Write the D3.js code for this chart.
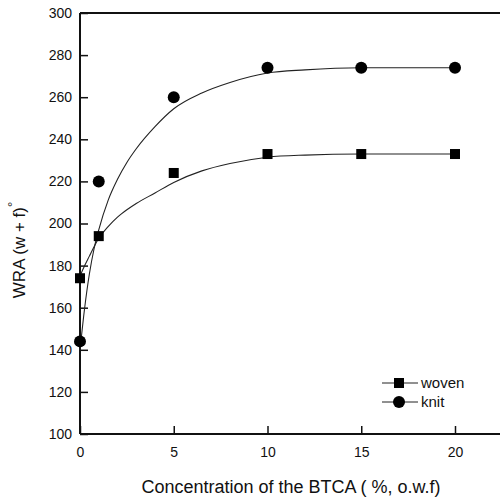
<!DOCTYPE html>
<html>
<head>
<meta charset="utf-8">
<script src="https://cdn.jsdelivr.net/npm/d3@7"></script>
<style>
  html, body { margin: 0; padding: 0; background: #fff; }
  svg { display: block; }
  text { font-family: "Liberation Sans", Arial, sans-serif; fill: #111; }
</style>
</head>
<body>
<svg id="chart" width="500" height="497"></svg>
<script>
// ---- data ----
const concentration = [0, 1, 5, 10, 15, 20];
const wovenValues = [174, 194, 224, 233, 233, 233];
const knitValues = [144, 220, 260, 274, 274, 274];

// fitted curves
const fitX = [0, 0.25, 0.5, 0.75, 1, 1.5, 2, 2.5, 3, 4, 5, 6.5, 8, 10, 12, 15, 20];
const wovenFit = [175, 180, 184.5, 189, 193, 198.5, 203, 206.5, 209.5, 214.5, 219.5, 225, 228.5, 231.5, 232.5, 233, 233];
const knitFit = [140, 160, 176, 188, 197, 211, 221, 229, 235.5, 246, 254.5, 262, 267, 271.5, 273, 274, 274];

const xTicks = [0, 5, 10, 15, 20];
const yTicks = [100, 120, 140, 160, 180, 200, 220, 240, 260, 280, 300];

const seriesNames = ["woven", "knit"];
const xLabel = "Concentration of the BTCA ( %, o.w.f)";

// ---- layout ----
const svg = d3.select("#chart");
const mLeft = 80, mTop = 13, mBottom = 434;
const x = d3.scaleLinear().domain([0, 20]).range([mLeft, 455]);
const y = d3.scaleLinear().domain([100, 300]).range([mBottom, mTop]);

// frame top (right edge off-screen)
svg.append("line").attr("x1", mLeft).attr("x2", 502).attr("y1", mTop).attr("y2", mTop)
  .attr("stroke", "#111").attr("stroke-width", 2);

// axes
const xAxis = d3.axisBottom(x).tickValues(xTicks).tickSize(-8).tickPadding(13).tickFormat(d3.format("d"));
const gx = svg.append("g").attr("transform", `translate(0,${mBottom})`).call(xAxis);
gx.select(".domain").attr("d", `M${mLeft},0H502`).attr("stroke", "#111").attr("stroke-width", 2);
gx.selectAll(".tick line").attr("stroke", "#111").attr("stroke-width", 1.5);
gx.selectAll(".tick text").attr("font-size", 14).attr("font-family", "Liberation Sans, Arial, sans-serif").attr("fill", "#111");

const yAxis = d3.axisLeft(y).tickValues(yTicks).tickSize(-8).tickPadding(8).tickFormat(d3.format("d"));
const gy = svg.append("g").attr("transform", `translate(${mLeft},0)`).call(yAxis);
gy.select(".domain").attr("d", `M0,${mTop}V${mBottom}`).attr("stroke", "#111").attr("stroke-width", 2);
gy.selectAll(".tick line").attr("stroke", "#111").attr("stroke-width", 1.5);
gy.selectAll(".tick text").attr("font-size", 14).attr("font-family", "Liberation Sans, Arial, sans-serif").attr("fill", "#111");

// fitted curves
const line = d3.line().x((d, i) => x(fitX[i])).y(d => y(d)).curve(d3.curveMonotoneX);
svg.append("path").datum(wovenFit).attr("d", line).attr("fill", "none").attr("stroke", "#222").attr("stroke-width", 1.1);
svg.append("path").datum(knitFit).attr("d", line).attr("fill", "none").attr("stroke", "#222").attr("stroke-width", 1.1);

// markers
const sq = 10;
svg.append("g").selectAll("rect").data(wovenValues).join("rect")
  .attr("x", (d, i) => x(concentration[i]) - sq / 2)
  .attr("y", d => y(d) - sq / 2)
  .attr("width", sq).attr("height", sq).attr("fill", "#000");
svg.append("g").selectAll("circle").data(knitValues).join("circle")
  .attr("cx", (d, i) => x(concentration[i]))
  .attr("cy", d => y(d))
  .attr("r", 6).attr("fill", "#000");

// legend
const legend = svg.append("g");
const rows = [383, 402];
rows.forEach((ry, k) => {
  legend.append("line").attr("x1", 382).attr("x2", 395).attr("y1", ry).attr("y2", ry).attr("stroke", "#222").attr("stroke-width", 1);
  legend.append("line").attr("x1", 403).attr("x2", 418).attr("y1", ry).attr("y2", ry).attr("stroke", "#222").attr("stroke-width", 1);
  if (k === 0) {
    legend.append("rect").attr("x", 399 - 5).attr("y", ry - 5).attr("width", 10).attr("height", 10).attr("fill", "#000");
  } else {
    legend.append("circle").attr("cx", 399).attr("cy", ry).attr("r", 6).attr("fill", "#000");
  }
  legend.append("text").attr("x", 421).attr("y", ry + 5).attr("font-size", 15).text(seriesNames[k]);
});

// axis titles
svg.append("text").attr("x", 291).attr("y", 493).attr("text-anchor", "middle").attr("font-size", 18).text(xLabel);
const yt = svg.append("text").attr("transform", "translate(25,250) rotate(-90)").attr("text-anchor", "middle").attr("font-size", 17);
yt.append("tspan").text("WRA (w + f)");
yt.append("tspan").attr("dy", -8).attr("font-size", 13).text("°");
</script>
</body>
</html>
